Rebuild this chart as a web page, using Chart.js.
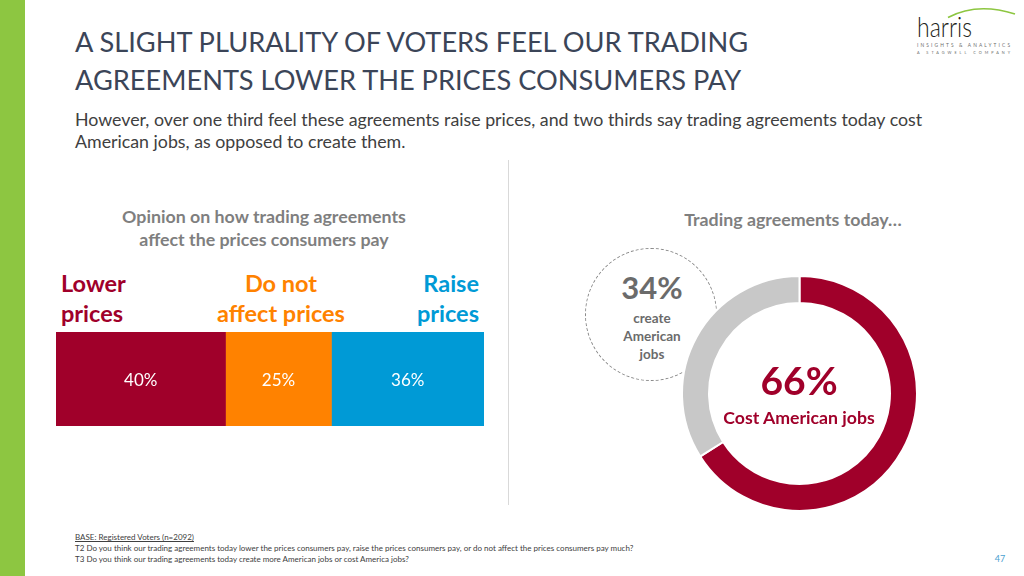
<!DOCTYPE html>
<html>
<head>
<meta charset="utf-8">
<script src="https://cdn.jsdelivr.net/npm/chart.js@4/dist/chart.umd.min.js"></script>
<style>
  html, body { margin:0; padding:0; background:#fff; }
  body { width:1024px; height:576px; position:relative; overflow:hidden; font-family: Lato, "Open Sans", sans-serif; }
  .abs { position:absolute; white-space:nowrap; }
  #greenbar { position:absolute; left:0; top:0; width:25px; height:576px; background:#8dc641; }
  #title { left:75px; top:22.5px; font-size:27.2px; line-height:38px; color:#3b4558; font-weight:400; }
  #subtitle { left:75px; top:108px; font-size:17.8px; line-height:22px; color:#404040; }
  #divider { position:absolute; left:508px; top:160px; width:1px; height:345px; background:#d9d9d9; }
  .gtitle { font-size:17.8px; font-weight:700; color:#7f7f7f; text-align:center; }
  #ltitle { left:114px; width:300px; top:204.6px; line-height:23px; }
  #rtitle { left:643px; width:300px; top:208.5px; line-height:20px; }
  .hdr { font-size:23.5px; line-height:30px; font-weight:700; top:267.5px; }
  #barbox { position:absolute; left:56px; top:332px; width:428px; height:94px; }
  #donutbox { position:absolute; left:681px; top:275px; width:237px; height:237px; }
  #dash { position:absolute; left:585px; top:248px; width:132px; height:133px; border:1px dashed #8a8a8a; border-radius:50%; box-sizing:border-box; }
  #p34 { left:552px; width:200px; text-align:center; top:269.4px; font-size:31px; line-height:37.2px; font-weight:700; color:#6b6b6b; }
  #c34 { left:552px; width:200px; text-align:center; top:308.8px; font-size:13.5px; line-height:18px; font-weight:700; color:#6b6b6b; white-space:normal; }
  #p66 { left:699px; width:200px; text-align:center; top:356.5px; font-size:39px; line-height:46.8px; font-weight:700; color:#a0002a; }
  #c66 { left:699px; width:200px; text-align:center; top:408px; font-size:17.7px; line-height:20.4px; font-weight:700; color:#a0002a; }
  #foot { left:75px; top:532.4px; font-size:8px; line-height:11px; color:#404040; }
  #pg { left:990px; top:553px; font-size:9px; line-height:11px; color:#4a9fd0; width:20px; text-align:center; }
  #logo { position:absolute; left:905px; top:5px; width:115px; height:55px; }
</style>
</head>
<body>
<div id="greenbar"></div>
<div id="title" class="abs">A SLIGHT PLURALITY OF VOTERS FEEL OUR TRADING<br>AGREEMENTS LOWER THE PRICES CONSUMERS PAY</div>
<div id="subtitle" class="abs">However, over one third feel these agreements raise prices, and two thirds say trading agreements today cost<br>American jobs, as opposed to create them.</div>
<div id="divider"></div>

<div id="ltitle" class="abs gtitle">Opinion on how trading agreements<br>affect the prices consumers pay</div>
<div id="rtitle" class="abs gtitle">Trading agreements today…</div>

<div id="h0" class="abs hdr"></div>
<div id="h1" class="abs hdr"></div>
<div id="h2" class="abs hdr"></div>

<div id="barbox"><canvas id="bar"></canvas></div>

<div id="dash"></div>
<div id="p34" class="abs"></div>
<div id="c34" class="abs">create<br>American<br>jobs</div>
<div id="donutbox"><canvas id="donut"></canvas></div>
<div id="p66" class="abs"></div>
<div id="c66" class="abs">Cost American jobs</div>

<div id="foot" class="abs"><span style="text-decoration:underline">BASE: Registered Voters (n=2092)</span><br>T2 Do you think our trading agreements today lower the prices consumers pay, raise the prices consumers pay, or do not affect the prices consumers pay much?<br>T3 Do you think our trading agreements today create more American jobs or cost America jobs?</div>
<div id="pg" class="abs">47</div>

<svg id="logo" viewBox="0 0 115 55">
  <path d="M43 12.5 Q 72 -3 110 9" stroke="#8dc641" stroke-width="1.6" fill="none"/>
  <text x="12" y="32" font-family="Lato, sans-serif" font-size="27" font-weight="300" fill="#231f20" textLength="55" lengthAdjust="spacingAndGlyphs">harris</text>
  <text x="12" y="42" font-family="Lato, sans-serif" font-size="4.8" fill="#6d6d6d" textLength="93" lengthAdjust="spacing">INSIGHTS &amp; ANALYTICS</text>
  <text x="12" y="49" font-family="Lato, sans-serif" font-size="3.8" fill="#6d6d6d" textLength="93" lengthAdjust="spacing">A STAGWELL COMPANY</text>
</svg>

<script>
// ---- Data ----
const priceCategories = ["Lower prices", "Do not affect prices", "Raise prices"];
const priceHeaderLines = [["Lower", "prices"], ["Do not", "affect prices"], ["Raise", "prices"]];
const priceValues = [40, 25, 36];
const priceColors = ["#a0002a", "#ff8200", "#009ad6"];

const jobsCategories = ["Cost American jobs", "Create American jobs"];
const jobsValues = [66, 34];
const jobsColors = ["#a0002a", "#c8c8c8"];

// ---- Headers above the stacked bar ----
const hdrPos = [
  {left: 61, align: "left"},
  {left: 181, width: 200, align: "center"},
  {left: 279, width: 200, align: "right"}
];
priceHeaderLines.forEach((lines, i) => {
  const el = document.getElementById("h" + i);
  el.innerHTML = lines.join("<br>");
  el.style.color = priceColors[i];
  el.style.left = hdrPos[i].left + "px";
  if (hdrPos[i].width) el.style.width = hdrPos[i].width + "px";
  el.style.textAlign = hdrPos[i].align;
});
document.getElementById("p34").textContent = jobsValues[1] + "%";
document.getElementById("p66").textContent = jobsValues[0] + "%";

// ---- Stacked bar ----
const barLabelPlugin = {
  id: "barLabels",
  afterDatasetsDraw(chart) {
    const ctx = chart.ctx;
    ctx.save();
    ctx.fillStyle = "#ffffff";
    ctx.font = "17px Lato, 'Open Sans', sans-serif";
    ctx.textAlign = "center";
    ctx.textBaseline = "middle";
    chart.data.datasets.forEach((ds, i) => {
      const meta = chart.getDatasetMeta(i);
      meta.data.forEach((el, j) => {
        const cx = (el.x + el.base) / 2;
        ctx.fillText(ds.data[j] + "%", cx, el.y + 2);
      });
    });
    ctx.restore();
  }
};

const total = priceValues.reduce((a, b) => a + b, 0);
new Chart(document.getElementById("bar"), {
  type: "bar",
  data: {
    labels: [""],
    datasets: priceCategories.map((c, i) => ({
      label: c,
      data: [priceValues[i]],
      backgroundColor: priceColors[i],
      borderWidth: 0,
      barPercentage: 1,
      categoryPercentage: 1
    }))
  },
  options: {
    indexAxis: "y",
    responsive: true,
    maintainAspectRatio: false,
    animation: false,
    layout: { padding: 0 },
    plugins: { legend: { display: false }, tooltip: { enabled: false } },
    scales: {
      x: { stacked: true, min: 0, max: total, display: false },
      y: { stacked: true, display: false }
    }
  },
  plugins: [barLabelPlugin]
});

// ---- Doughnut ----
new Chart(document.getElementById("donut"), {
  type: "doughnut",
  data: {
    labels: jobsCategories,
    datasets: [{
      data: jobsValues,
      backgroundColor: jobsColors,
      borderColor: "#ffffff",
      borderWidth: 2
    }]
  },
  options: {
    responsive: true,
    maintainAspectRatio: false,
    animation: false,
    cutout: "77%",
    layout: { padding: 0 },
    plugins: { legend: { display: false }, tooltip: { enabled: false } }
  }
});
</script>
</body>
</html>
